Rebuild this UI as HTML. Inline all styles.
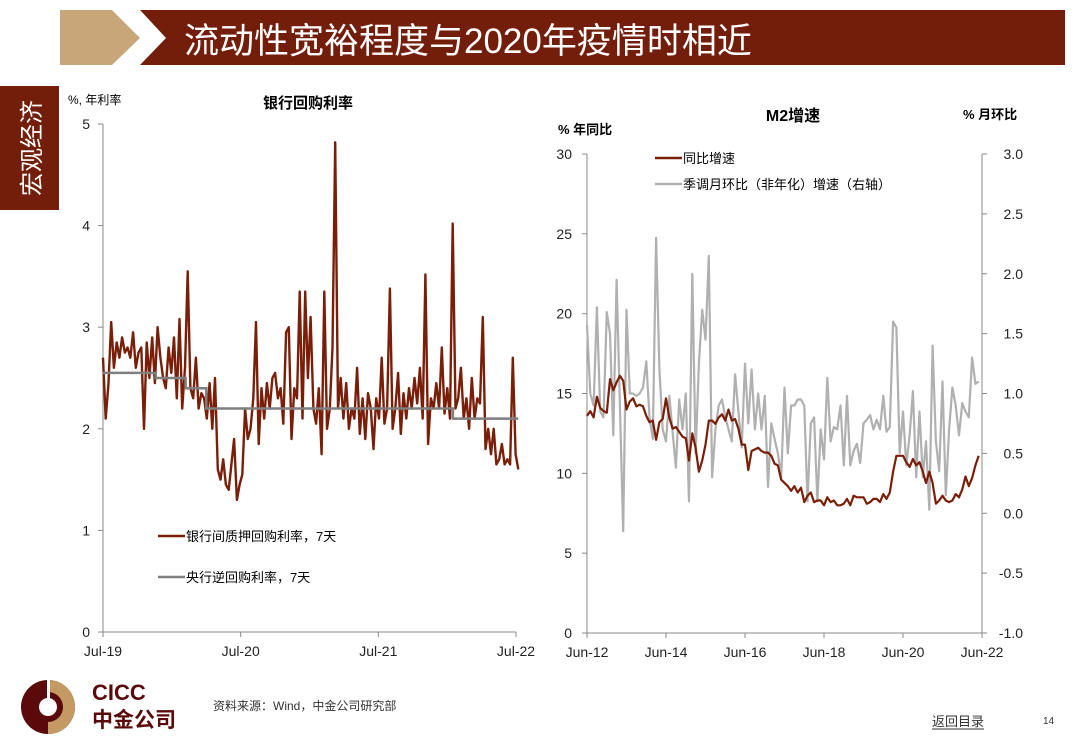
<!DOCTYPE html>
<html><head><meta charset="utf-8">
<style>
body{margin:0;width:1080px;height:755px;background:#fff;font-family:"Liberation Sans","Noto Sans CJK SC",sans-serif;position:relative;overflow:hidden}
.abs{position:absolute}
</style></head><body>
<svg class="abs" style="left:0;top:0" width="1080" height="755">
  <polygon points="60,10 112,10 140,38 112,65 60,65" fill="#c9a67a"/>
  <polygon points="140,10 1065,10 1065,65 140,65 166,38" fill="#731e0b"/>
  <text x="184" y="53" font-size="35" fill="#fff" font-family="Liberation Sans, Noto Sans CJK SC, sans-serif">流动性宽裕程度与2020年疫情时相近</text>
  <rect x="0" y="86" width="59" height="124" fill="#731e0b"/>
  <text transform="translate(40,148) rotate(-90)" text-anchor="middle" font-size="24" fill="#fff">宏观经济</text>
  <g>
    <circle cx="48" cy="707" r="27" fill="#5a0a0a"/>
    <path d="M48,680 A27,27 0 0 1 48,734 L48,722 A15,15 0 0 0 48,692 Z" fill="#c49a62"/>
    <circle cx="48" cy="707" r="9" fill="#fff"/>
    <rect x="47" y="680" width="3" height="25" fill="#fff"/>
    <text x="92" y="700" font-size="22" font-weight="bold" fill="#5a0a0a">CICC</text>
    <text x="92" y="727" font-size="21" font-weight="bold" fill="#5a0a0a">中金公司</text>
  </g>
  <text x="213" y="710" font-size="12" fill="#333">资料来源：Wind，中金公司研究部</text>
  <text x="932" y="726" font-size="13" fill="#333">返回目录</text>
  <line x1="932" y1="729" x2="984" y2="729" stroke="#333" stroke-width="1"/>
  <text x="1043" y="724" font-size="10" fill="#333">14</text>
  <g id="left"></g>
  <g id="right"></g>
</svg>
<script>
// ---------- Left chart data ----------
const repoRates = [2.7,2.1,2.45,3.05,2.6,2.85,2.7,2.9,2.75,2.8,2.7,2.95,2.6,2.75,2.8,2.0,2.85,2.5,2.9,2.45,3.0,2.7,2.5,2.4,2.8,2.55,2.9,2.3,3.08,2.2,2.6,3.55,2.4,2.3,2.7,2.2,2.35,2.3,2.1,2.45,2.0,2.5,1.6,1.5,1.7,1.45,1.4,1.65,1.9,1.3,1.45,1.55,2.2,
1.9,2.0,2.3,3.05,1.85,2.4,2.1,2.45,2.2,2.5,2.55,2.3,2.4,2.05,2.95,3.0,1.9,2.4,2.3,3.35,2.1,3.35,2.5,3.1,2.2,2.05,2.4,1.75,3.35,2.0,2.2,2.8,4.82,2.2,2.5,2.1,2.45,2.0,2.2,2.1,2.6,1.95,2.3,1.9,2.35,2.2,1.8,2.3,2.1,2.7,2.05,2.2,
3.38,2.0,2.2,2.55,1.95,2.35,2.1,2.4,2.2,2.5,2.25,2.6,2.1,3.52,1.85,2.3,2.2,2.45,2.2,2.8,2.15,2.4,2.1,4.02,2.2,2.3,2.6,2.1,2.3,2.0,2.5,2.1,2.3,2.25,3.1,1.8,2.0,1.75,2.0,1.65,1.7,1.85,1.65,1.7,1.65,2.7,1.75,1.6];
const pbocMonths = [0,4.6,7.2,9.0,30.5,36.2];
const pbocRates = [2.55,2.50,2.40,2.20,2.10,2.10];
const leftYTicks = [0,1,2,3,4,5];
const leftXLabels = ["Jul-19","Jul-20","Jul-21","Jul-22"];
// ---------- Right chart data ----------
const m2Yoy = [13.6,13.9,13.5,14.8,14.1,13.9,13.8,15.9,15.2,15.7,16.1,15.8,14.0,14.5,14.7,14.2,14.3,14.2,13.6,13.2,13.3,12.1,13.2,13.4,14.7,13.5,12.8,12.9,12.6,12.3,12.2,10.8,12.5,11.6,10.1,10.8,11.8,13.3,13.3,13.1,13.5,13.7,13.3,14.0,13.3,13.4,12.8,11.8,11.8,10.2,11.4,11.5,11.6,11.4,11.3,11.3,11.1,10.6,10.5,9.6,9.4,9.2,8.9,9.2,8.8,9.1,8.2,8.6,8.8,8.2,8.3,8.3,8.0,8.5,8.2,8.3,8.0,8.0,8.1,8.4,8.0,8.6,8.5,8.5,8.5,8.1,8.2,8.4,8.4,8.2,8.7,8.4,8.8,10.1,11.1,11.1,11.1,10.7,10.4,10.9,10.5,10.7,10.1,9.4,10.1,9.4,8.1,8.3,8.6,8.3,8.2,8.3,8.7,8.5,9.0,9.8,9.2,9.7,10.5,11.1];
const m2Mom = [1.57,1.0,0.9,1.72,0.85,0.8,1.68,1.5,0.65,1.95,0.9,-0.15,1.7,1.0,1.0,0.98,1.0,1.05,1.27,0.8,0.62,2.3,1.2,0.7,0.6,0.98,0.68,0.38,0.95,0.7,1.0,0.1,2.0,0.5,1.25,1.7,1.45,2.15,0.3,0.7,0.9,0.95,0.8,0.7,0.6,1.16,0.85,0.55,1.25,0.75,1.2,0.7,1.0,0.7,0.98,0.22,0.75,0.62,0.5,0.3,1.05,0.5,0.9,0.9,0.95,0.95,0.9,0.1,0.75,0.8,0.1,0.7,0.45,1.13,0.6,0.72,0.7,0.9,0.4,0.98,0.4,0.52,0.58,0.42,0.75,0.78,0.82,0.7,0.78,0.7,0.98,0.68,0.72,1.6,1.55,0.5,0.85,0.4,0.65,1.02,0.3,0.85,0.3,0.6,0.03,1.4,0.6,0.35,1.1,0.15,0.7,1.05,0.9,0.65,0.92,0.85,0.8,1.3,1.08,1.1];
const rightYTicks = [0,5,10,15,20,25,30];
const rightY2Ticks = [-1.0,-0.5,0.0,0.5,1.0,1.5,2.0,2.5,3.0];
const rightXLabels = ["Jun-12","Jun-14","Jun-16","Jun-18","Jun-20","Jun-22"];

const NS="http://www.w3.org/2000/svg";
function mk(parent,tag,attrs,text){const e=document.createElementNS(NS,tag);for(const k in attrs)e.setAttribute(k,attrs[k]);if(text!==undefined)e.textContent=text;parent.appendChild(e);return e;}
const F='Liberation Sans, Noto Sans CJK SC, sans-serif';

// ---------- Left chart ----------
const L=document.getElementById('left');


const lx0=103,lx1=516,ly0=632,ly1=124;
const lxM=m=>lx0+(lx1-lx0)*m/36;
const lyS=v=>ly0-(ly0-ly1)*v/5;
let t=mk(L,'text',{x:308,y:108,'font-size':15,'font-weight':'bold','text-anchor':'middle','font-family':F},'银行回购利率');


t=mk(L,'text',{x:68,y:104,'font-size':12,'font-family':F},'%, 年利率');


leftYTicks.forEach(v=>{
  mk(L,'line',{x1:98,x2:lx0,y1:lyS(v),y2:lyS(v),stroke:'#888'});
  const tx=mk(L,'text',{x:90,y:lyS(v)+5,'font-size':14,'text-anchor':'end','font-family':F,fill:'#222'},v);
  
  
});
leftXLabels.forEach((s,i)=>{
  const x=lxM(i*12);
  mk(L,'line',{x1:x,x2:x,y1:ly0,y2:ly0+5,stroke:'#888'});
  const tx=mk(L,'text',{x:x,y:656,'font-size':14,'text-anchor':'middle','font-family':F,fill:'#222'},s);
  
  
});
mk(L,'line',{x1:lx0,x2:lx0,y1:ly1,y2:ly0,stroke:'#888'});
mk(L,'line',{x1:lx0,x2:lx1,y1:ly0,y2:ly0,stroke:'#888'});
let pts=repoRates.map((v,i)=>lxM(36.2*i/(repoRates.length-1)).toFixed(1)+','+lyS(v).toFixed(1)).join(' ');
let pl=mk(L,'polyline',{points:pts,fill:'none',stroke:'#7a1e08','stroke-width':2.4,'stroke-linejoin':'round'});


let sp=[];pbocMonths.forEach((m,i)=>{if(i>0)sp.push(lxM(m).toFixed(1)+','+lyS(pbocRates[i-1]).toFixed(1));sp.push(lxM(m).toFixed(1)+','+lyS(pbocRates[i]).toFixed(1));});
pl=mk(L,'polyline',{points:sp.join(' '),fill:'none',stroke:'#7f7f7f','stroke-width':2.5});


let lg=mk(L,'g',{});


mk(lg,'line',{x1:158,x2:185,y1:536,y2:536,stroke:'#7a1e08','stroke-width':2.5});
mk(lg,'text',{x:186,y:541,'font-size':13,'font-family':F},'银行间质押回购利率，7天');
mk(lg,'line',{x1:158,x2:185,y1:577,y2:577,stroke:'#7f7f7f','stroke-width':2.5});
mk(lg,'text',{x:186,y:582,'font-size':13,'font-family':F},'央行逆回购利率，7天');

// ---------- Right chart ----------
const R=document.getElementById('right');


const rx0=587,rx1=982,ry0=633,ry1=154;
const rxM=i=>rx0+(rx1-rx0)*i/120;
const ryL=v=>ry0-(ry0-ry1)*v/30;
const ryR=v=>ry0-(ry0-ry1)*(v+1)/4;
t=mk(R,'text',{x:793,y:121,'font-size':16,'font-weight':'bold','text-anchor':'middle','font-family':F},'M2增速');


t=mk(R,'text',{x:558,y:134,'font-size':13,'font-weight':'bold','font-family':F},'% 年同比');


t=mk(R,'text',{x:963,y:119,'font-size':13,'font-weight':'bold','font-family':F},'% 月环比');


rightYTicks.forEach(v=>{
  mk(R,'line',{x1:582,x2:rx0,y1:ryL(v),y2:ryL(v),stroke:'#888'});
  const tx=mk(R,'text',{x:572,y:ryL(v)+5,'font-size':14,'text-anchor':'end','font-family':F,fill:'#222'},v);
  
  
});
rightY2Ticks.forEach(v=>{
  mk(R,'line',{x1:rx1,x2:rx1+5,y1:ryR(v),y2:ryR(v),stroke:'#888'});
  const tx=mk(R,'text',{x:1023,y:ryR(v)+5,'font-size':14,'text-anchor':'end','font-family':F,fill:'#222'},v.toFixed(1));
  
  
});
rightXLabels.forEach((s,i)=>{
  const x=rxM(i*24);
  mk(R,'line',{x1:x,x2:x,y1:ry0,y2:ry0+5,stroke:'#888'});
  const tx=mk(R,'text',{x:x,y:657,'font-size':14,'text-anchor':'middle','font-family':F,fill:'#222'},s);
  
  
});
mk(R,'line',{x1:rx0,x2:rx0,y1:ry1,y2:ry0,stroke:'#888'});
mk(R,'line',{x1:rx1,x2:rx1,y1:ry1,y2:ry0,stroke:'#888'});
mk(R,'line',{x1:rx0,x2:rx1,y1:ry0,y2:ry0,stroke:'#888'});
pts=m2Mom.map((v,i)=>rxM(i).toFixed(1)+','+ryR(v).toFixed(1)).join(' ');
pl=mk(R,'polyline',{points:pts,fill:'none',stroke:'#b0b0b0','stroke-width':2.2,'stroke-linejoin':'round'});


pts=m2Yoy.map((v,i)=>rxM(i).toFixed(1)+','+ryL(v).toFixed(1)).join(' ');
pl=mk(R,'polyline',{points:pts,fill:'none',stroke:'#7a1e08','stroke-width':2.2,'stroke-linejoin':'round'});


lg=mk(R,'g',{});


mk(lg,'line',{x1:655,x2:682,y1:158,y2:158,stroke:'#7a1e08','stroke-width':2.5});
mk(lg,'text',{x:683,y:163,'font-size':13,'font-family':F},'同比增速');
mk(lg,'line',{x1:655,x2:682,y1:184,y2:184,stroke:'#b0b0b0','stroke-width':2.5});
mk(lg,'text',{x:683,y:189,'font-size':13,'font-family':F},'季调月环比（非年化）增速（右轴）');
</script>
</body></html>
